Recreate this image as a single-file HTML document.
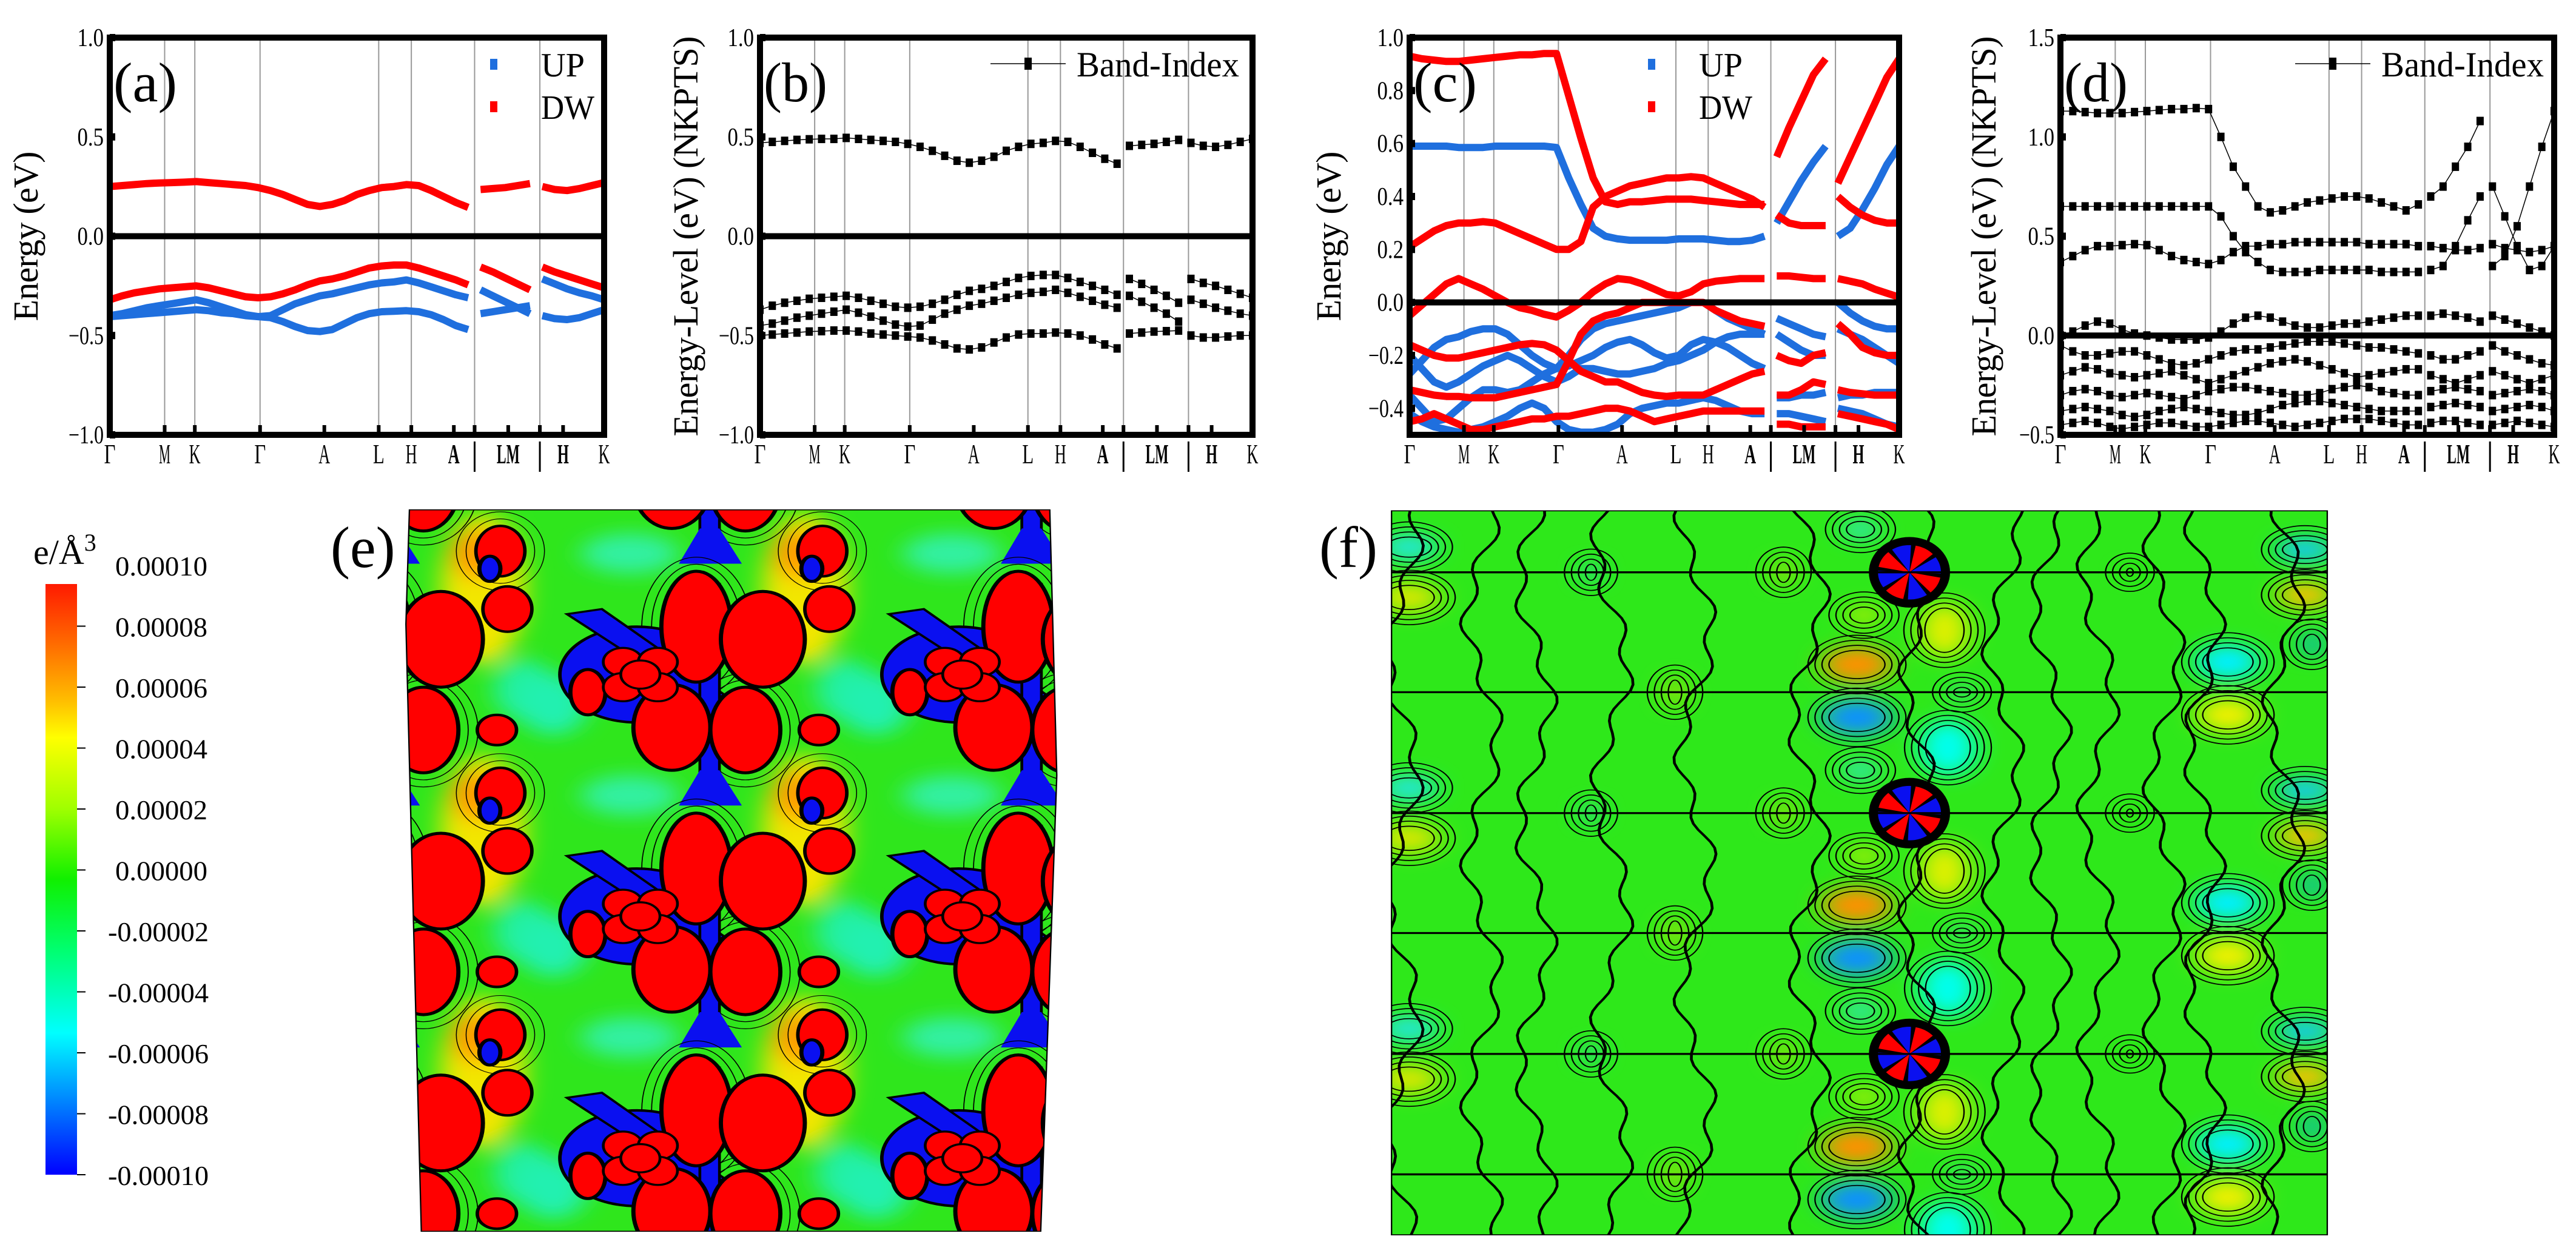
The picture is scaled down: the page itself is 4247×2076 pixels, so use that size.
<!DOCTYPE html>
<html><head><meta charset="utf-8">
<style>
html,body{margin:0;padding:0;background:#fff;width:4247px;height:2076px;overflow:hidden;}
body{position:relative;font-family:"Liberation Serif",serif;}
svg{position:absolute;left:0;top:0;overflow:hidden;}
text{font-family:"Liberation Serif",serif;}
</style></head>
<body>
<svg id="main" width="4247" height="2076" viewBox="0 0 4247 2076" font-family="Liberation Serif, serif" xmlns="http://www.w3.org/2000/svg">
  <defs>
    <linearGradient id="cbgrad" x1="0" y1="0" x2="0" y2="1">
      <stop offset="0" stop-color="#ff1a00"/>
      <stop offset="0.1" stop-color="#ff6a00"/>
      <stop offset="0.2" stop-color="#ffc000"/>
      <stop offset="0.26" stop-color="#ffff00"/>
      <stop offset="0.38" stop-color="#a0ff00"/>
      <stop offset="0.5" stop-color="#10f000"/>
      <stop offset="0.62" stop-color="#00ff70"/>
      <stop offset="0.76" stop-color="#00ffff"/>
      <stop offset="0.88" stop-color="#0080ff"/>
      <stop offset="1" stop-color="#0000ff"/>
    </linearGradient>
    <filter id="blur" x="-50%" y="-50%" width="200%" height="200%"><feGaussianBlur stdDeviation="18"/></filter>
    <clipPath id="eclip"><polygon points="585,73 1500,73 1510,600 1487,1505 602,1505 580,300"/></clipPath>
    <clipPath id="fclip"><rect x="125" y="75" width="1337" height="1437"/></clipPath>
  </defs>
  <g id="charts"></g>
  <g>
    <text x="55" y="930" font-size="58">e/Å<tspan dy="-22" font-size="40">3</tspan></text>
    <rect x="75" y="963" width="52" height="974" fill="url(#cbgrad)"/>
    <g id="cbticks"></g>
  </g>
  <text x="545" y="935" font-size="96">(e)</text>
  <text x="2175" y="935" font-size="96">(f)</text>
  <svg id="emap" x="0" y="780" width="1800" height="1296" viewBox="0 0 1560 1560" preserveAspectRatio="none"></svg>
  <svg id="fmap" x="2150" y="780" width="1800" height="1296" viewBox="0 0 1560 1560" preserveAspectRatio="none"></svg>
</svg>
<script>
// ---------------- data ----------------
const kGrid = [0,0.025,0.05,0.075,0.1,0.125,0.15,0.175,0.2,0.225,0.25,0.275,0.3,0.325,0.35,0.375,0.4,0.425,0.45,0.475,0.5,0.525,0.55,0.575,0.6,0.625,0.65,0.675,0.7,0.725,0.75,0.775,0.8,0.825,0.85,0.875,0.9,0.925,0.95,0.975,1];
const segBreaks = [0.738, 0.87];
const kLabels = ["Γ","M","K","Γ","A","L","H","A","|","LM","|","H","K"];
const kLabelBold = [false,false,false,false,false,false,false,true,false,true,false,true,false];
const kLabelPos = [0,0.111,0.172,0.304,0.434,0.544,0.61,0.696,0.738,0.806,0.87,0.917,1];
const kGridLines = [0.111,0.172,0.304,0.544,0.61,0.738,0.87];

const aDW1 = [.25,.255,.26,.265,.268,.27,.272,.275,.27,.265,.26,.255,.245,.23,.21,.185,.16,.15,.16,.18,.21,.23,.245,.25,.26,.255,.23,.2,.17,.145,.235,.24,.245,.255,.265,.25,.235,.23,.24,.255,.27];
const aDW2 = [-.32,-.3,-.285,-.275,-.265,-.26,-.255,-.25,-.26,-.275,-.29,-.305,-.31,-.305,-.29,-.27,-.245,-.225,-.215,-.2,-.18,-.16,-.15,-.145,-.145,-.16,-.18,-.2,-.22,-.245,-.155,-.18,-.21,-.24,-.27,-.155,-.18,-.2,-.22,-.24,-.26];
const aUP1 = [-.40,-.39,-.375,-.36,-.35,-.34,-.33,-.32,-.335,-.355,-.375,-.395,-.405,-.4,-.37,-.34,-.32,-.3,-.29,-.275,-.26,-.245,-.235,-.23,-.22,-.235,-.255,-.275,-.295,-.31,-.27,-.3,-.33,-.36,-.39,-.215,-.24,-.265,-.285,-.3,-.32];
const aUP2 = [-.405,-.4,-.395,-.39,-.385,-.38,-.375,-.37,-.375,-.385,-.39,-.4,-.405,-.41,-.43,-.455,-.475,-.48,-.47,-.44,-.41,-.39,-.38,-.378,-.375,-.38,-.395,-.42,-.45,-.47,-.39,-.38,-.37,-.36,-.35,-.4,-.415,-.42,-.41,-.39,-.37];

const bBand1 = [.47,.475,.48,.485,.488,.49,.49,.495,.49,.485,.48,.475,.465,.45,.43,.405,.38,.37,.38,.40,.43,.45,.465,.47,.48,.475,.45,.42,.39,.365,.455,.46,.465,.475,.485,.47,.455,.45,.46,.475,.49];
const bBand2 = [-.37,-.35,-.335,-.325,-.315,-.31,-.305,-.3,-.31,-.325,-.34,-.355,-.36,-.355,-.34,-.32,-.295,-.275,-.265,-.25,-.23,-.21,-.2,-.195,-.195,-.21,-.23,-.25,-.27,-.295,-.215,-.24,-.27,-.3,-.335,-.215,-.235,-.25,-.27,-.29,-.31];
const bBand3 = [-.45,-.44,-.425,-.41,-.4,-.39,-.38,-.37,-.385,-.405,-.425,-.445,-.455,-.45,-.42,-.39,-.37,-.35,-.34,-.325,-.31,-.295,-.285,-.28,-.27,-.285,-.305,-.325,-.345,-.36,-.3,-.33,-.36,-.39,-.43,-.32,-.34,-.36,-.375,-.39,-.4];
const bBand4 = [-.5,-.495,-.49,-.485,-.48,-.478,-.475,-.475,-.48,-.49,-.495,-.5,-.505,-.51,-.525,-.545,-.565,-.57,-.56,-.535,-.51,-.495,-.49,-.49,-.485,-.49,-.5,-.52,-.545,-.565,-.49,-.485,-.48,-.478,-.475,-.5,-.51,-.51,-.505,-.5,-.5];

const cDW1 = [.93,.92,.915,.91,.91,.915,.92,.925,.93,.935,.935,.94,.94,.78,.62,.47,.38,.37,.38,.38,.385,.39,.39,.39,.385,.38,.375,.37,.37,.37,.55,.66,.76,.86,.92,.45,.55,.65,.75,.85,.92];
const cDW2 = [.21,.24,.27,.29,.3,.3,.305,.3,.28,.26,.24,.22,.2,.2,.23,.36,.4,.42,.44,.45,.46,.47,.47,.475,.47,.45,.43,.41,.39,.36,.33,.3,.29,.29,.29,.4,.36,.33,.31,.3,.3];
const cDW3 = [-.05,-.01,.03,.07,.09,.07,.05,.025,.0,-.02,-.03,-.045,-.055,-.03,.0,.04,.07,.09,.085,.07,.05,.03,.025,.04,.07,.08,.085,.09,.09,.09,.1,.1,.095,.09,.09,.09,.08,.07,.05,.035,.02];
const cDW4 = [-.16,-.18,-.2,-.21,-.21,-.2,-.19,-.18,-.17,-.16,-.155,-.16,-.18,-.22,-.26,-.28,-.3,-.3,-.32,-.34,-.35,-.355,-.35,-.35,-.35,-.33,-.31,-.29,-.27,-.26,-.2,-.22,-.23,-.2,-.19,-.08,-.12,-.17,-.19,-.2,-.2];
const cDW5 = [-.33,-.34,-.35,-.355,-.355,-.36,-.36,-.36,-.35,-.34,-.33,-.32,-.31,-.22,-.12,-.07,-.05,-.04,-.02,.0,.0,.0,.0,.0,.0,-.03,-.05,-.07,-.08,-.09,-.35,-.35,-.33,-.3,-.31,-.33,-.34,-.345,-.35,-.35,-.35];
const cDW6 = [-.45,-.44,-.42,-.44,-.46,-.48,-.48,-.47,-.46,-.45,-.44,-.44,-.43,-.43,-.42,-.41,-.4,-.4,-.41,-.43,-.45,-.44,-.43,-.42,-.41,-.41,-.41,-.41,-.41,-.41,-.46,-.46,-.47,-.47,-.47,-.42,-.43,-.44,-.45,-.46,-.48];
const cUP1 = [.59,.59,.59,.59,.585,.585,.585,.59,.59,.59,.59,.59,.585,.47,.37,.28,.25,.24,.235,.235,.235,.235,.24,.24,.24,.235,.23,.23,.235,.25,.3,.38,.46,.53,.59,.25,.28,.35,.43,.52,.59];
const cUP2 = [-.27,-.22,-.17,-.14,-.13,-.11,-.1,-.1,-.12,-.16,-.2,-.23,-.25,-.24,-.22,-.2,-.17,-.15,-.14,-.16,-.19,-.21,-.2,-.16,-.14,-.15,-.17,-.2,-.23,-.25,-.12,-.15,-.18,-.2,-.2,-.1,-.12,-.14,-.17,-.2,-.23];
const cUP3 = [-.2,-.25,-.3,-.32,-.3,-.27,-.24,-.22,-.2,-.22,-.25,-.28,-.3,-.28,-.25,-.25,-.26,-.27,-.27,-.26,-.25,-.23,-.22,-.2,-.18,-.15,-.13,-.12,-.12,-.12,-.06,-.08,-.1,-.12,-.13,.0,-.04,-.07,-.09,-.1,-.1];
const cUP4 = [-.35,-.4,-.45,-.44,-.4,-.36,-.33,-.33,-.34,-.33,-.3,-.27,-.25,-.2,-.14,-.1,-.08,-.07,-.06,-.05,-.04,-.03,-.02,.0,.0,-.03,-.06,-.08,-.1,-.12,-.36,-.36,-.35,-.35,-.34,-.36,-.35,-.35,-.34,-.34,-.34];
const cUP5 = [-.42,-.45,-.47,-.48,-.49,-.48,-.47,-.45,-.43,-.4,-.38,-.4,-.45,-.48,-.49,-.49,-.48,-.46,-.42,-.4,-.39,-.38,-.38,-.37,-.36,-.37,-.39,-.41,-.42,-.42,-.42,-.42,-.43,-.44,-.45,-.4,-.41,-.42,-.44,-.46,-.47];

const dBand1 = [1.13,1.13,1.125,1.12,1.12,1.12,1.125,1.13,1.135,1.14,1.14,1.145,1.14,1.0,.85,.75,.65,.62,.63,.65,.67,.68,.69,.7,.7,.69,.67,.65,.63,.66,.7,.75,.85,.95,1.08,.35,.4,.55,.75,.95,1.13];
const dBand2 = [.65,.65,.65,.65,.65,.65,.65,.65,.65,.65,.65,.65,.65,.6,.5,.42,.37,.33,.32,.32,.32,.33,.33,.33,.33,.33,.32,.32,.32,.32,.33,.35,.45,.58,.7,.75,.6,.45,.33,.35,.45];
const dBand3 = [.37,.4,.43,.45,.45,.455,.46,.455,.43,.4,.38,.37,.36,.38,.42,.45,.45,.46,.46,.47,.47,.47,.47,.47,.47,.46,.46,.46,.46,.45,.45,.44,.43,.43,.44,.46,.44,.43,.42,.43,.45];
const dBand4 = [.0,.02,.05,.07,.06,.03,.01,.0,-.01,-.02,-.02,-.02,-.01,.02,.06,.09,.1,.09,.07,.05,.04,.04,.05,.06,.06,.07,.08,.09,.1,.1,.1,.11,.1,.09,.07,.1,.08,.06,.04,.02,.0];
const dBand5 = [-.05,-.08,-.1,-.1,-.09,-.08,-.08,-.1,-.12,-.14,-.15,-.14,-.12,-.1,-.08,-.07,-.07,-.06,-.05,-.04,-.03,-.03,-.03,-.04,-.05,-.06,-.06,-.07,-.08,-.09,-.1,-.12,-.12,-.1,-.08,-.05,-.08,-.1,-.12,-.14,-.15];
const dBand6 = [-.2,-.18,-.16,-.17,-.19,-.2,-.21,-.2,-.19,-.18,-.2,-.22,-.24,-.22,-.2,-.18,-.16,-.14,-.13,-.12,-.13,-.15,-.17,-.19,-.21,-.2,-.19,-.18,-.17,-.17,-.2,-.22,-.24,-.22,-.2,-.18,-.2,-.22,-.24,-.22,-.2];
const dBand7 = [-.3,-.28,-.27,-.28,-.3,-.31,-.3,-.29,-.3,-.31,-.32,-.3,-.28,-.27,-.26,-.26,-.27,-.28,-.29,-.3,-.3,-.29,-.27,-.26,-.25,-.26,-.28,-.29,-.3,-.3,-.28,-.27,-.26,-.27,-.28,-.3,-.29,-.28,-.27,-.28,-.3];
const dBand8 = [-.38,-.37,-.36,-.37,-.38,-.4,-.41,-.4,-.38,-.37,-.36,-.37,-.38,-.39,-.4,-.4,-.39,-.37,-.35,-.34,-.33,-.33,-.34,-.35,-.36,-.37,-.38,-.38,-.38,-.38,-.36,-.35,-.34,-.35,-.36,-.38,-.37,-.36,-.35,-.36,-.38];
const dBand9 = [-.45,-.44,-.43,-.44,-.46,-.47,-.46,-.45,-.44,-.44,-.45,-.46,-.46,-.45,-.44,-.43,-.43,-.44,-.45,-.46,-.45,-.44,-.43,-.42,-.42,-.42,-.43,-.44,-.45,-.45,-.44,-.43,-.43,-.44,-.45,-.45,-.44,-.43,-.44,-.45,-.46];

const yTicksAB = [1.0,0.5,0.0,-0.5,-1.0];
const yTicksC = [1.0,0.8,0.6,0.4,0.2,0.0,-0.2,-0.4];
const yTicksD = [1.5,1.0,0.5,0.0,-0.5];
const cbTicks = ["0.00010","0.00008","0.00006","0.00004","0.00002","0.00000","-0.00002","-0.00004","-0.00006","-0.00008","-0.00010"];

// ---------------- drawing ----------------
const NS = "http://www.w3.org/2000/svg";
const FONT = "Liberation Serif, serif";
function mk(tag, attrs, parent){
  const e = document.createElementNS(NS, tag);
  for (const k in attrs) e.setAttribute(k, attrs[k]);
  if (tag === 'text') e.setAttribute('font-family', FONT);
  if (parent) parent.appendChild(e);
  return e;
}
const charts = document.getElementById('charts');
const BLUE = "#1f6fde", RED = "#ff0000";

function crossesBreak(k1, k2){ return segBreaks.some(b => k1 < b && k2 > b); }

function panel(cfg){
  const g = mk('g', {}, charts);
  
  
  const xs = k => cfg.x0 + k * (cfg.x1 - cfg.x0);
  const ys = v => cfg.y0 + (cfg.ymax - v) / (cfg.ymax - cfg.ymin) * (cfg.y1 - cfg.y0);
  kGridLines.forEach(k => {
    const l = mk('line', {x1: xs(k), x2: xs(k), y1: cfg.y0, y2: cfg.y1, stroke: '#999', 'stroke-width': 2}, g);
    
    
  });
  const clipId = cfg.name + '-clip';
  const cp = mk('clipPath', {id: clipId}, g);
  mk('rect', {x: cfg.x0, y: cfg.y0, width: cfg.x1 - cfg.x0, height: cfg.y1 - cfg.y0}, cp);
  const dg = mk('g', {'clip-path': 'url(#' + clipId + ')'}, g);
  cfg.series.forEach(s => {
    let d = '';
    for (let i = 0; i < kGrid.length; i++) {
      const x = xs(kGrid[i]), y = ys(s.values[i]);
      const newSeg = i === 0 || crossesBreak(kGrid[i-1], kGrid[i]);
      d += (newSeg ? 'M' : 'L') + x.toFixed(1) + ' ' + y.toFixed(1) + ' ';
    }
    if (s.style === 'band') {
      const p = mk('path', {d: d, fill: 'none', stroke: s.color, 'stroke-width': 12, 'stroke-linejoin': 'round'}, dg);
      
      
    } else {
      const p = mk('path', {d: d, fill: 'none', stroke: '#000', 'stroke-width': 1.5}, dg);
      
      
      for (let i = 0; i < kGrid.length; i++) {
        const r = mk('rect', {x: xs(kGrid[i]) - 6, y: ys(s.values[i]) - 7, width: 12, height: 14, fill: '#000'}, dg);
        
        
      }
    }
  });
  const z = mk('line', {x1: cfg.x0, x2: cfg.x1, y1: ys(0), y2: ys(0), stroke: '#000', 'stroke-width': 10}, g);
  
  
  const fr = mk('rect', {x: cfg.x0, y: cfg.y0, width: cfg.x1 - cfg.x0, height: cfg.y1 - cfg.y0, fill: 'none', stroke: '#000', 'stroke-width': 10}, g);
  
  
  cfg.yticks.forEach(v => {
    const t = mk('rect', {x: cfg.x0, y: ys(v) - 6, width: 9, height: 12, fill: '#000'}, g);
    
    
    const lab = v.toFixed(1).replace('-', '−');
    const tx = mk('text', {x: cfg.x0 - 10, y: ys(v) + 14, 'text-anchor': 'end', 'font-size': 42, textLength: lab.length * 14.5, lengthAdjust: 'spacingAndGlyphs'}, g);
    tx.textContent = lab;
    
    
  });
  kLabelPos.forEach((k, i) => {
    const x = xs(k);
    const t = mk('rect', {x: x - 3, y: cfg.y1 - 16, width: 6, height: 12, fill: '#000'}, g);
    
    
    const lab = kLabels[i];
    if (lab === '|') {
      const l = mk('line', {x1: x, x2: x, y1: 728, y2: 778, stroke: '#000', 'stroke-width': 3}, g);
      
      
      return;
    }
    const w = lab.length * 19;
    const tx = mk('text', {x: x, y: 764, 'text-anchor': 'middle', 'font-size': 46, 'font-weight': kLabelBold[i] ? 'bold' : 'normal', textLength: w, lengthAdjust: 'spacingAndGlyphs'}, g);
    tx.textContent = lab;
    
    
  });
  const pl = mk('text', {x: cfg.x0 + 6, y: cfg.y0 + 105, 'font-size': 92, textLength: 105, lengthAdjust: 'spacingAndGlyphs'}, g);
  pl.textContent = cfg.tag;
  
  
  const yt = mk('text', {x: 0, y: 0, transform: 'translate(' + cfg.ytx + ',' + ((cfg.y0 + cfg.y1) / 2) + ') rotate(-90)', 'text-anchor': 'middle', 'font-size': 58, textLength: cfg.ytLen, lengthAdjust: 'spacing'}, g);
  yt.textContent = cfg.ytitle;
  
  
  if (cfg.legend === 'updw') {
    [['UP', BLUE, 106], ['DW', RED, 176]].forEach(([n, c, y]) => {
      const m = mk('rect', {x: cfg.lx - 6, y: y - 9, width: 12, height: 18, fill: c}, g);
      
      
      const t = mk('text', {x: cfg.lx + 78, y: y + 20, 'font-size': 56, textLength: n === 'UP' ? 72 : 88, lengthAdjust: 'spacingAndGlyphs'}, g);
      t.textContent = n;
      
      
    });
  } else {
    const l = mk('line', {x1: cfg.lx - 62, x2: cfg.lx + 62, y1: 105, y2: 105, stroke: '#000', 'stroke-width': 1.5}, g);
    
    
    const m = mk('rect', {x: cfg.lx - 6, y: 95, width: 12, height: 20, fill: '#000'}, g);
    
    
    const t = mk('text', {x: cfg.lx + 80, y: 126, 'font-size': 58, textLength: 268, lengthAdjust: 'spacingAndGlyphs'}, g);
    t.textContent = 'Band-Index';
    
    
  }
}

panel({name: 'panel-a', tag: '(a)', x0: 181, x1: 996, y0: 62, y1: 717, ymin: -1, ymax: 1, yticks: yTicksAB,
  ytitle: 'Energy (eV)', ytx: 62, ytLen: 280, legend: 'updw', lx: 814,
  series: [
    {label: 'up-band-1', color: BLUE, style: 'band', values: aUP1},
    {label: 'up-band-2', color: BLUE, style: 'band', values: aUP2},
    {label: 'dw-band-1', color: RED, style: 'band', values: aDW1},
    {label: 'dw-band-2', color: RED, style: 'band', values: aDW2}]});
panel({name: 'panel-b', tag: '(b)', x0: 1253, x1: 2065, y0: 62, y1: 717, ymin: -1, ymax: 1, yticks: yTicksAB,
  ytitle: 'Energy-Level (eV) (NKPTS)', ytx: 1150, ytLen: 660, legend: 'band', lx: 1695,
  series: [
    {label: 'band-1', style: 'marker', values: bBand1},
    {label: 'band-2', style: 'marker', values: bBand2},
    {label: 'band-3', style: 'marker', values: bBand3},
    {label: 'band-4', style: 'marker', values: bBand4}]});
panel({name: 'panel-c', tag: '(c)', x0: 2324, x1: 3131, y0: 62, y1: 717, ymin: -0.5, ymax: 1, yticks: yTicksC,
  ytitle: 'Energy (eV)', ytx: 2210, ytLen: 280, legend: 'updw', lx: 2723,
  series: [
    {label: 'up-band-1', color: BLUE, style: 'band', values: cUP1},
    {label: 'up-band-2', color: BLUE, style: 'band', values: cUP2},
    {label: 'up-band-3', color: BLUE, style: 'band', values: cUP3},
    {label: 'up-band-4', color: BLUE, style: 'band', values: cUP4},
    {label: 'up-band-5', color: BLUE, style: 'band', values: cUP5},
    {label: 'dw-band-1', color: RED, style: 'band', values: cDW1},
    {label: 'dw-band-2', color: RED, style: 'band', values: cDW2},
    {label: 'dw-band-3', color: RED, style: 'band', values: cDW3},
    {label: 'dw-band-4', color: RED, style: 'band', values: cDW4},
    {label: 'dw-band-5', color: RED, style: 'band', values: cDW5},
    {label: 'dw-band-6', color: RED, style: 'band', values: cDW6}]});
panel({name: 'panel-d', tag: '(d)', x0: 3397, x1: 4211, y0: 62, y1: 717, ymin: -0.5, ymax: 1.5, yticks: yTicksD,
  ytitle: 'Energy-Level (eV) (NKPTS)', ytx: 3290, ytLen: 660, legend: 'band', lx: 3846,
  series: [dBand1, dBand2, dBand3, dBand4, dBand5, dBand6, dBand7, dBand8, dBand9].map((v, i) => ({label: 'band-' + (i + 1), style: 'marker', values: v}))});

const cbg = document.getElementById('cbticks');
cbTicks.forEach((lab, i) => {
  const y = 1937 - (10 - i) * 100.5;
  if (y > 963) {
    const t = mk('line', {x1: 127, x2: 141, y1: y, y2: y, stroke: '#000', 'stroke-width': 2}, cbg);
    
    
  }
  const tx = mk('text', {x: lab[0] === '-' ? 178 : 190, y: y + 17, 'font-size': 46, textLength: lab[0] === '-' ? 166 : 152, lengthAdjust: 'spacingAndGlyphs'}, cbg);
  tx.textContent = lab;
  
  
});

// ---------------- map (e) ----------------
const em = document.getElementById('emap');
const eg = mk('g', {'clip-path': 'url(#eclip)'}, em);
mk('rect', {x: 0, y: 0, width: 1560, height: 1560, fill: '#2fe61c'}, eg);
const blurG = mk('g', {filter: 'url(#blur)'}, eg);
const layerBlue = mk('g', {}, eg);
const layerRed = mk('g', {}, eg);
function ell(parent, cx, cy, rx, ry, fill, stroke, sw){
  return mk('ellipse', {cx: cx, cy: cy, rx: rx, ry: ry, fill: fill, stroke: stroke || 'none', 'stroke-width': sw || 0}, parent);
}
const eCols = [100, 560, 1020, 1480];
const eRows = [-60, 420, 900, 1380];
eCols.forEach(cx => eRows.forEach(cy => {
  ell(blurG, cx - 330, cy - 190, 60, 150, '#f2e600');
  ell(blurG, cx - 340, cy - 260, 35, 50, '#ff9a00');
  ell(blurG, cx - 230, cy + 40, 50, 60, '#20f0b0');
  ell(blurG, cx + 190, cy + 10, 45, 60, '#20f0a0');
  ell(blurG, cx - 120, cy + 220, 70, 40, '#30f0a0');
  [14, 28].forEach(d => {
    ell(layerBlue, cx - 25, cy - 115, 50 + d, 110 + d, 'none', '#000', 1.5);
    ell(layerBlue, cx + 45, cy + 90, 50 + d, 85 + d, 'none', '#000', 1.5);
    ell(layerBlue, cx - 305, cy - 265, 35 + d, 50 + d, 'none', '#000', 1.3);
  });
  ell(layerBlue, cx - 110, cy - 20, 110, 95, '#0a10f0', '#000', 5);
  mk('polygon', {points: [cx-210,cy-140, cx-160,cy-150, cx+15,cy+20, cx-10,cy+40].join(' '), fill: '#0a10f0', stroke: '#000', 'stroke-width': 4}, layerBlue);
  mk('rect', {x: cx - 20, y: cy - 200, width: 28, height: 400, fill: '#0a10f0', stroke: '#000', 'stroke-width': 4}, layerBlue);
  mk('polygon', {points: [cx-20,cy+170, cx+8,cy+170, cx+40,cy+240, cx-50,cy+240].join(' '), fill: '#0a10f0'}, layerBlue);
  [[-25,-115,50,110],[70,-90,60,95],[-60,85,55,85],[45,90,50,85],[-180,15,25,45]].forEach(([dx,dy,rx,ry]) => {
    ell(layerRed, cx + dx, cy + dy, rx, ry, '#ff0000', '#000', 6);
  });
  [[-25,-25],[25,-25],[-25,25],[25,25],[0,0]].forEach(([dx,dy]) => {
    ell(layerRed, cx - 105 + dx, cy - 20 + dy, 28, 28, '#ff0000', '#000', 4);
  });
  ell(layerRed, cx - 305, cy - 265, 35, 50, '#ff0000', '#000', 5);
  ell(layerRed, cx - 320, cy - 230, 15, 25, '#0a10f0', '#000', 6);
  ell(layerRed, cx - 310, cy + 90, 28, 30, '#ff0000', '#000', 5);
  ell(layerRed, cx - 295, cy + 330, 35, 45, '#ff0000', '#000', 5);
}));
mk('polygon', {points: '585,73 1500,73 1510,600 1487,1505 602,1505 580,300', fill: 'none', stroke: '#000', 'stroke-width': 2}, em);

// ---------------- map (f) ----------------
const fm = document.getElementById('fmap');
const fg = mk('g', {'clip-path': 'url(#fclip)'}, fm);
mk('rect', {x: 125, y: 75, width: 1337, height: 1437, fill: '#2ee81a'}, fg);
const fBlur = mk('g', {filter: 'url(#blur)'}, fg);
const fLines = mk('g', {}, fg);
const fMarks = mk('g', {}, fg);
[140, 255, 330, 440, 560, 720, 880, 1000, 1065, 1135, 1230, 1285, 1400].forEach((x0, j) => {
  let d = '';
  for (let y = 60; y <= 1530; y += 12) {
    const x = x0 + 22 * Math.sin((y + j * 70) / 478 * 2 * Math.PI) + 10 * Math.sin((y + j * 30) / 120 * 2 * Math.PI);
    d += (y === 60 ? 'M' : 'L') + x.toFixed(1) + ' ' + y + ' ';
  }
  mk('path', {d: d, fill: 'none', stroke: '#000', 'stroke-width': 4}, fLines);
});
function rings(parent, cx, cy, rx, ry, fill){
  ell(fBlur, cx, cy, rx, ry, fill);
  [0, 10, 20, 30].forEach(d => ell(parent, cx, cy, rx * 0.8 + d, ry * 0.8 + d, 'none', '#000', 2));
}
const fRowsA = [197, 675, 1153];
const fRowsB = [435, 913, 1392];
fRowsA.forEach(y => {
  rings(fMarks, 150, y - 50, 40, 25, '#20e8e0');
  rings(fMarks, 150, y + 50, 45, 30, '#d8e800');
  rings(fMarks, 1430, y - 45, 40, 22, '#10c8ff');
  rings(fMarks, 1430, y + 45, 40, 25, '#ffc000');
  rings(fMarks, 915, y + 115, 35, 55, '#e0f000');
  rings(fMarks, 800, y + 85, 25, 20, '#b0f000');
  rings(fMarks, 795, y - 85, 25, 20, '#30e8c0');
  rings(fMarks, 685, y, 12, 25, '#c0e000');
  rings(fMarks, 410, y, 10, 20, '#20d8d0');
  rings(fMarks, 1180, y, 6, 10, '#30e020');
  ell(fMarks, 865, y, 58, 70, '#000');
  for (let p = 0; p < 8; p++) {
    const a0 = p * Math.PI / 4 + 0.2, a1 = a0 + Math.PI / 4 - 0.15;
    const r = 45;
    mk('path', {d: 'M865 ' + y + ' L' + (865 + r * Math.cos(a0)).toFixed(1) + ' ' + (y + r * 1.2 * Math.sin(a0)).toFixed(1) +
      ' A' + r + ' ' + (r * 1.2) + ' 0 0 1 ' + (865 + r * Math.cos(a1)).toFixed(1) + ' ' + (y + r * 1.2 * Math.sin(a1)).toFixed(1) + ' Z',
      fill: p % 2 ? '#0a10f0' : '#ff0000'}, fMarks);
  }
});
fRowsB.forEach(y => {
  rings(fMarks, 790, y - 55, 50, 35, '#ff9000');
  rings(fMarks, 790, y + 50, 50, 35, '#0a90ff');
  rings(fMarks, 920, y + 110, 40, 55, '#00ffee');
  rings(fMarks, 1320, y - 60, 45, 35, '#00f0ff');
  rings(fMarks, 1320, y + 45, 45, 35, '#f0f000');
  rings(fMarks, 1440, y - 95, 15, 25, '#00b0d0');
  rings(fMarks, 530, y, 12, 30, '#c0e000');
  rings(fMarks, 940, y, 15, 12, '#30e0c0');
});
[197, 435, 675, 913, 1153, 1392].forEach(y => mk('line', {x1: 125, x2: 1462, y1: y, y2: y, stroke: '#000', 'stroke-width': 4}, fg));
mk('rect', {x: 125, y: 75, width: 1337, height: 1437, fill: 'none', stroke: '#000', 'stroke-width': 2}, fm);
</script>
</body></html>
